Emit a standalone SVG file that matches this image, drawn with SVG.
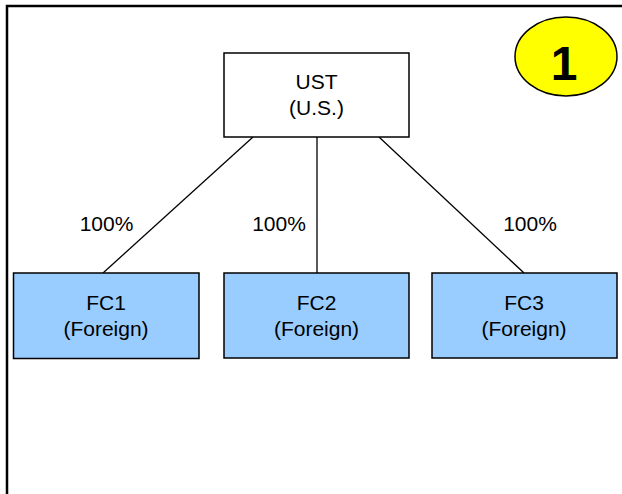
<svg xmlns="http://www.w3.org/2000/svg" width="622" height="494" viewBox="0 0 622 494">
<style>
.box{stroke:#000;stroke-width:1.5}
.fc{fill:#99ccff}
.ust{fill:#fff}
.t{font-family:"Liberation Sans",Arial,sans-serif;font-size:21px;fill:#000;text-anchor:middle}
.c{stroke:#000;stroke-width:1.3;fill:none}
</style>
<rect x="0" y="0" width="622" height="494" fill="#fff"/>
<path d="M7,494 V6 H622" fill="none" stroke="#000" stroke-width="2.5"/>
<g id="connectors">
<line class="c" x1="253" y1="137" x2="103" y2="273"/>
<line class="c" x1="317" y1="137" x2="317" y2="273"/>
<line class="c" x1="379" y1="137" x2="524" y2="273"/>
<text class="t" x="106.5" y="231">100%</text>
<text class="t" x="279" y="231">100%</text>
<text class="t" x="530" y="231">100%</text>
</g>
<g id="UST">
<rect class="box ust" x="224" y="53" width="185" height="84"/>
<text class="t" x="316.5" y="89">UST</text>
<text class="t" x="316.5" y="115">(U.S.)</text>
</g>
<g id="FC1">
<rect class="box fc" x="13.5" y="273" width="185.5" height="85.5"/>
<text class="t" x="106" y="310">FC1</text>
<text class="t" x="106" y="336">(Foreign)</text>
</g>
<g id="FC2">
<rect class="box fc" x="224" y="273" width="185" height="85"/>
<text class="t" x="316.5" y="310">FC2</text>
<text class="t" x="316.5" y="336">(Foreign)</text>
</g>
<g id="FC3">
<rect class="box fc" x="432" y="273" width="185" height="85"/>
<text class="t" x="524" y="310">FC3</text>
<text class="t" x="524" y="336">(Foreign)</text>
</g>
<g id="badge">
<ellipse cx="566" cy="56.5" rx="51" ry="39.5" fill="#ffff00" stroke="#000" stroke-width="1.5"/>
<text x="564" y="80" font-family="Liberation Sans,Arial,sans-serif" font-size="48" font-weight="bold" text-anchor="middle" fill="#000">1</text>
</g>
</svg>
